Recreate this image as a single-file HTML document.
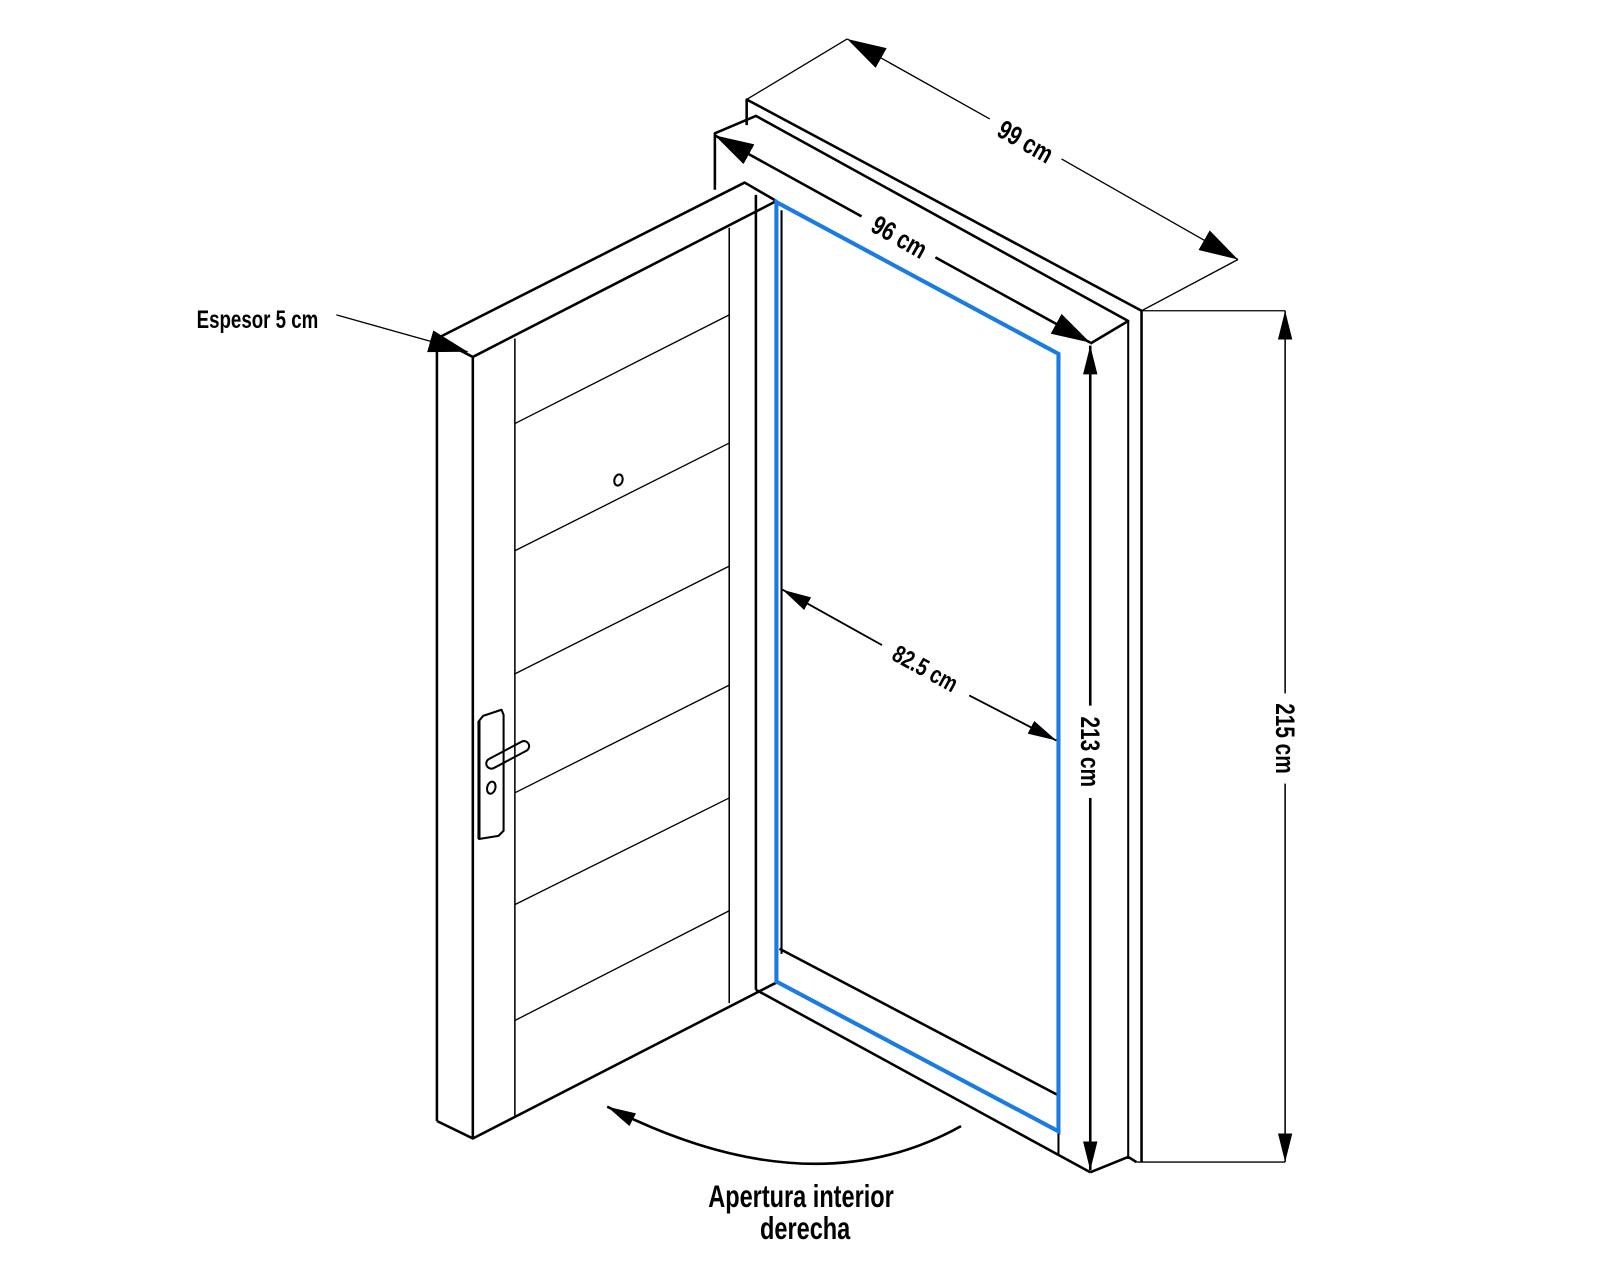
<!DOCTYPE html>
<html><head><meta charset="utf-8"><style>
html,body{margin:0;padding:0;background:#fff;}
svg{display:block;}
text{font-family:"Liberation Sans",sans-serif;fill:#000;}
</style></head><body>
<svg width="1600" height="1280" viewBox="0 0 1560 1248" xmlns="http://www.w3.org/2000/svg">
<defs>
<marker id="AH" viewBox="0 0 10 10" refX="10" refY="5" markerWidth="38" markerHeight="22" orient="auto-start-reverse" markerUnits="userSpaceOnUse" preserveAspectRatio="none"><path d="M0,0 L10,5 L0,10 z" fill="#000"/></marker>
<marker id="MH" viewBox="0 0 10 10" refX="10" refY="5" markerWidth="28" markerHeight="14" orient="auto-start-reverse" markerUnits="userSpaceOnUse" preserveAspectRatio="none"><path d="M0,0 L10,5 L0,10 z" fill="#000"/></marker>
</defs>
<g fill="none" stroke="#000" stroke-width="2.5" stroke-linejoin="round">
<polyline points="728,122 728,97 1113,303 1113,1133"/>
<line x1="1100" y1="313" x2="1100" y2="1130" stroke-width="2"/>
<polyline points="1100,1128 1108,1133"/>
<polyline points="697,185 697,130 737,113 1100,313 1063,335"/>
<polyline points="1063,1143 1100,1128"/>
<line x1="737" y1="190" x2="737" y2="965"/>
<line x1="762" y1="205" x2="762" y2="930" stroke-width="2"/>
<polyline points="737,965 1063,1143"/>
<polyline points="760,925 1032,1068"/>
<line x1="1032" y1="1103" x2="1032" y2="1125" stroke-width="2"/>
<polygon points="426,330 726,178 757,196 461,348"/>
<line x1="426" y1="330" x2="426" y2="1093"/>
<line x1="461" y1="348" x2="461" y2="1110"/>
<polyline points="426,1093 461,1110 757,958"/>
<line x1="502" y1="330" x2="502" y2="1088" stroke-width="1.5"/>
<line x1="711" y1="222" x2="711" y2="978" stroke-width="1.5"/>
<g stroke-width="1.3">
<line x1="502" y1="413" x2="711" y2="307"/>
<line x1="502" y1="537" x2="711" y2="432"/>
<line x1="502" y1="657" x2="711" y2="552"/>
<line x1="502" y1="773" x2="711" y2="668"/>
<line x1="502" y1="882" x2="711" y2="778"/>
<line x1="502" y1="995" x2="711" y2="888"/>
</g>
<path d="M467,703 L471,698 L489,692 L491,697 L491,810 L486,815 L467,818 Z" stroke-width="2"/>
<line x1="467" y1="703" x2="467" y2="818" stroke-width="3"/>
<rect x="472" y="731" width="46" height="10" rx="5" transform="rotate(-28 495 736)" stroke-width="2"/>
<ellipse cx="479" cy="768" rx="4" ry="6" transform="rotate(15 479 768)" stroke-width="2"/>
<ellipse cx="603" cy="468" rx="4" ry="5.5" transform="rotate(15 603 468)" stroke-width="2"/>
</g>
<polygon points="757,197 1032,345 1032,1103 757,957" fill="none" stroke="#1a7be0" stroke-width="4" stroke-linejoin="miter"/>
<g fill="none" stroke="#000" stroke-width="1.3">
<line x1="826" y1="38" x2="728" y2="97"/>
<line x1="1207" y1="253" x2="1113" y2="303"/>
<line x1="1113" y1="303" x2="1253" y2="303"/>
<line x1="1108" y1="1133" x2="1253" y2="1133"/>
<line x1="826" y1="38" x2="965" y2="116" marker-start="url(#AH)"/>
<line x1="1035" y1="155" x2="1207" y2="253" marker-end="url(#AH)"/>
<line x1="697" y1="132" x2="840" y2="211" stroke-width="2.5" marker-start="url(#AH)"/>
<line x1="912" y1="251" x2="1063" y2="334" stroke-width="2.5" marker-end="url(#AH)"/>
<line x1="763" y1="575" x2="860" y2="629" stroke-width="1.8" marker-start="url(#MH)"/>
<line x1="945" y1="678" x2="1030" y2="722" stroke-width="1.8" marker-end="url(#MH)"/>
<line x1="1063" y1="337" x2="1063" y2="688" stroke-width="2.5" marker-start="url(#MH)"/>
<line x1="1063" y1="778" x2="1063" y2="1141" stroke-width="2.5" marker-end="url(#MH)"/>
<line x1="1253" y1="303" x2="1253" y2="676" stroke-width="1.5" marker-start="url(#MH)"/>
<line x1="1253" y1="764" x2="1253" y2="1133" stroke-width="1.5" marker-end="url(#MH)"/>
<line x1="328" y1="307" x2="456" y2="343" marker-end="url(#AH)"/>
<path d="M937,1098 Q790,1180 592,1079" stroke-width="2.5" marker-end="url(#MH)"/>
</g>
<g font-size="26" text-anchor="middle" font-weight="bold">
<text transform="translate(1000,138) rotate(29.4) scale(0.78,1)" dy="9">99 cm</text>
<text transform="translate(877,231) rotate(29.4) scale(0.78,1)" dy="9">96 cm</text>
<text transform="translate(902,652) rotate(28.8) scale(0.78,1)" dy="8" font-size="24">82.5 cm</text>
<text transform="translate(1063,733) rotate(90) scale(0.78,1)" dy="9">213 cm</text>
<text transform="translate(1253,720) rotate(90) scale(0.78,1)" dy="9">215 cm</text>
<text transform="translate(251,312) scale(0.76,1)" dy="8" font-size="24">Espesor 5 cm</text>
<text transform="translate(781,1166) scale(0.74,1)" dy="11" font-size="31">Apertura interior</text>
<text transform="translate(785,1197) scale(0.74,1)" dy="11" font-size="31">derecha</text>
</g>
</svg>
</body></html>
